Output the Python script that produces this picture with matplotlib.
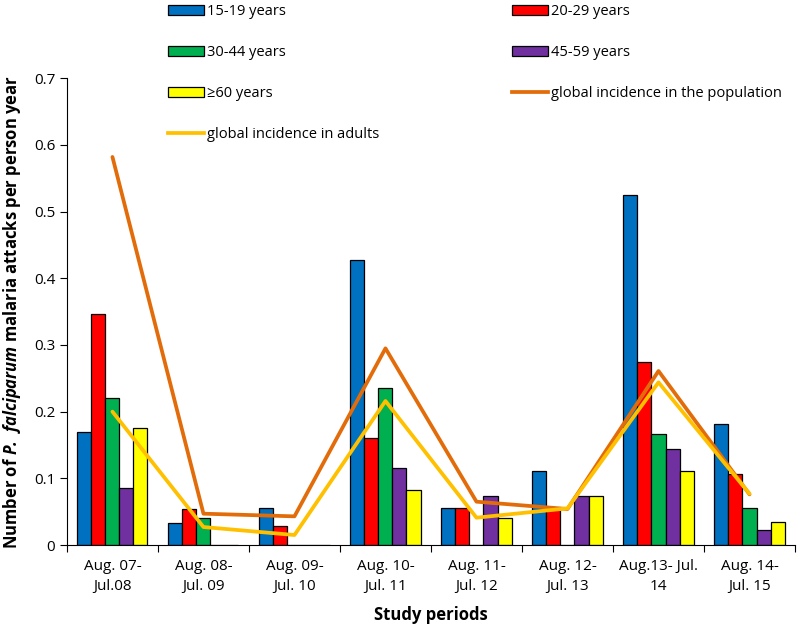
import matplotlib
matplotlib.use("Agg")
import matplotlib.pyplot as plt
from matplotlib.patches import Patch
from matplotlib.lines import Line2D
import numpy as np

# study periods (x categories)
periods = ["Aug. 07-\nJul.08", "Aug. 08-\nJul. 09", "Aug. 09-\nJul. 10", "Aug. 10-\nJul. 11",
           "Aug. 11-\nJul. 12", "Aug. 12-\nJul. 13", "Aug.13- Jul.\n14", "Aug. 14-\nJul. 15"]

# incidence per age group
age_15_19 = [0.169, 0.033, 0.055, 0.427, 0.055, 0.111, 0.525, 0.182]
age_20_29 = [0.347, 0.054, 0.028, 0.160, 0.055, 0.055, 0.274, 0.106]
age_30_44 = [0.220, 0.040, 0.0, 0.235, 0.0, 0.0, 0.166, 0.055]
age_45_59 = [0.085, 0.0, 0.0, 0.115, 0.074, 0.073, 0.144, 0.023]
age_60up = [0.176, 0.0, 0.0, 0.083, 0.041, 0.074, 0.111, 0.035]

glob_population = [0.582, 0.047, 0.043, 0.295, 0.065, 0.054, 0.261, 0.076]
glob_adults = [0.200, 0.027, 0.015, 0.216, 0.041, 0.055, 0.244, 0.077]

age_labels = ["15-19 years", "20-29 years", "30-44 years", "45-59 years", "\u226560 years"]
age_colors = ["#0070C0", "#FF0000", "#00B050", "#7030A0", "#FFFF00"]

plt.rcParams['font.family'] = ['Open Sans', 'DejaVu Sans']
plt.rcParams['mathtext.fontset'] = 'custom'
plt.rcParams['mathtext.bfit'] = 'Open Sans:italic:bold'

W, H = 797, 635
fig = plt.figure(figsize=(W / 100, H / 100), dpi=100)
ax = fig.add_axes([0.084, 0.1417, 0.9135, 0.735])

x = np.arange(len(periods))
w = 0.154
series = [age_15_19, age_20_29, age_30_44, age_45_59, age_60up]
for k, vals in enumerate(series):
    ax.bar(x + (k - 2) * w, vals, w, color=age_colors[k], edgecolor="black", linewidth=0.9, zorder=2)

ax.plot(x, glob_population, color="#E36C0A", linewidth=2.7, zorder=3, solid_capstyle="round")
ax.plot(x, glob_adults, color="#FFC000", linewidth=2.7, zorder=4, solid_capstyle="round")

ax.set_xlim(-0.5, len(periods) - 0.5)
ax.set_ylim(0, 0.7)
ax.set_yticks(np.arange(0, 0.71, 0.1))
ax.set_yticklabels(["0"] + ["%.1f" % v for v in np.arange(0.1, 0.71, 0.1)], fontsize=11)
ax.set_xticks(np.arange(-0.5, len(periods), 1.0))
ax.set_xticklabels([])
ax.set_xticks(x, minor=True)
ax.set_xticklabels(periods, minor=True, fontsize=11, linespacing=1.5)
ax.tick_params(axis='x', which='minor', length=0, pad=10)
ax.tick_params(axis='x', which='major', length=5, direction='out')
ax.tick_params(axis='y', length=5, direction='out')
for s in ["top", "right"]:
    ax.spines[s].set_visible(False)

ax.set_xlabel("Study periods", fontsize=12, fontweight="bold", labelpad=8)
ax.set_ylabel(r"Number of $\mathbfit{P.\ falciparum}$ malaria attacks per person year",
              fontsize=12, fontweight="bold", labelpad=8)

patches = [Patch(facecolor=c, edgecolor="black", linewidth=0.9, label=l)
           for c, l in zip(age_colors, age_labels)]
line_pop = Line2D([], [], color="#E36C0A", linewidth=2.7, label="global incidence in the population")
line_ad = Line2D([], [], color="#FFC000", linewidth=2.7, label="global incidence in adults")

leg_kw = dict(loc="upper left", frameon=False, fontsize=10.5, handlelength=2.45, handleheight=0.62,
              handletextpad=0.2, labelspacing=1.79, borderpad=0, borderaxespad=0)
leg1 = fig.legend(handles=[patches[0], patches[2], patches[4], line_ad],
                  bbox_to_anchor=(168 / W, 1 - 4 / H), **leg_kw)
leg2 = fig.legend(handles=[patches[1], patches[3], line_pop],
                  bbox_to_anchor=(512 / W, 1 - 4 / H), **leg_kw)

fig.savefig("out.png", dpi=100)
